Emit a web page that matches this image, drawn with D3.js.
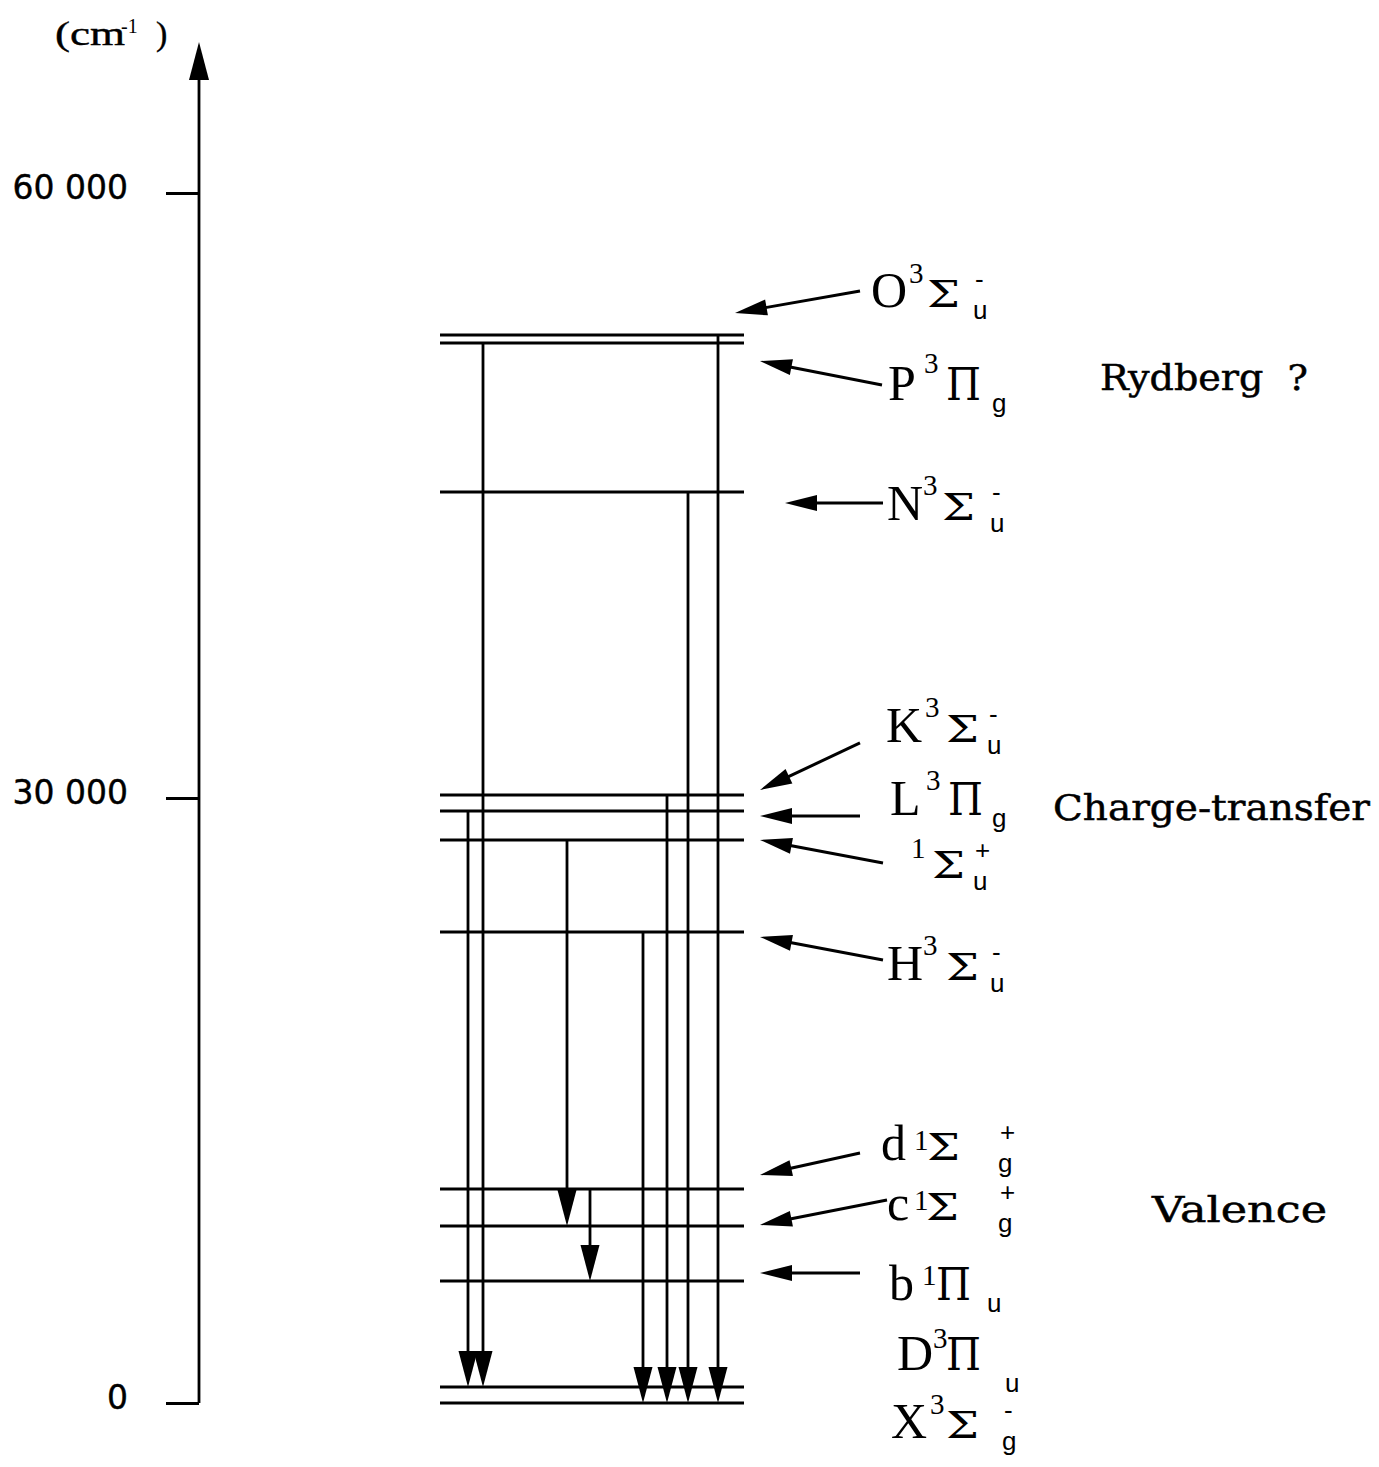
<!DOCTYPE html>
<html>
<head>
<meta charset="utf-8">
<script src="https://cdn.jsdelivr.net/npm/d3@7"></script>
<style>
  body { margin: 0; background: #fff; }
  svg text { fill: #000; }
</style>
</head>
<body>
<script>
// energy levels (cm-1)
const stateIds      = ["O", "P", "N", "K", "L", "S", "H", "d", "c", "b", "D", "X"];
const stateEnergies = [52960, 52560, 45170, 30150, 29350, 27920, 23360, 10610, 8780, 6050, 790, 0];
const stateLetters  = ["O", "P", "N", "K", "L", "", "H", "d", "c", "b", "D", "X"];
const stateMult     = ["3", "3", "3", "3", "3", "1", "3", "1", "1", "1", "3", "3"];
const stateSym      = ["Σ", "Π", "Σ", "Σ", "Π", "Σ", "Σ", "Σ", "Σ", "Π", "Π", "Σ"];
const stateParity   = ["u", "g", "u", "u", "g", "u", "u", "g", "g", "u", "u", "g"];
const stateSign     = ["-", "", "-", "-", "", "+", "-", "+", "+", "", "", "-"];

// radiative transitions, upper -> lower
const transFrom = ["L", "P", "S", "d", "H", "K", "N", "O"];
const transTo   = ["D", "D", "c", "b", "X", "X", "X", "X"];

const tickValues = [0, 30000, 60000];
const tickLabels = ["0", "30 000", "60 000"];
const groupNames = ["Rydberg  ?", "Charge-transfer", "Valence"];

// ---- layout ----
const W = 1379, H = 1467;
const axisX = 199;
const levelX0 = 440, levelX1 = 744;
const laneX = { L: 468, P: 483, S: 567, d: 590, H: 643, K: 667, N: 688, O: 718 };
// label placement: x of [letter, multiplicity, symbol, sub/sup], baseline offset from level,
// multiplicity raise, pointer arrow tail and tip (x, offset from level)
const labelLayout = {
  O: { x: [871, 909, 927, 973], dy: -28, sup: 24, tail: [860, -44], tip: [735, -22] },
  P: { x: [888, 924, 946, 992], dy: 57, sup: 27, tail: [882, 42], tip: [760, 18] },
  N: { x: [887, 923, 942, 990], dy: 28, sup: 25, tail: [883, 11], tip: [785, 11] },
  K: { x: [886, 925, 946, 987], dy: -53, sup: 25, tail: [860, -52], tip: [760, -5] },
  L: { x: [890, 926, 948, 992], dy: 4, sup: 25, tail: [860, 5], tip: [760, 5] },
  S: { x: [0, 911, 932, 973], dy: 38, sup: 20, tail: [883, 23], tip: [760, 0] },
  H: { x: [887, 923, 946, 990], dy: 48, sup: 25, tail: [883, 28], tip: [760, 5] },
  d: { x: [881, 914, 927, 998], dy: -29, sup: 10, tail: [860, -36], tip: [760, -14] },
  c: { x: [887, 914, 926, 998], dy: -6, sup: 10, tail: [887, -26], tip: [760, -1] },
  b: { x: [889, 922, 936, 987], dy: 19, sup: 15, tail: [860, -8], tip: [760, -8] },
  D: { x: [897, 933, 946, 1005], dy: -17, sup: 22, subDy: 22 },
  X: { x: [891, 930, 946, 1002], dy: 35, sup: 24 }
};
const symStyle = { "Σ": { size: 37, width: 33 }, "Π": { size: 45, width: 35 } };
const groupPos = [[1100, 390, 208], [1053, 820, 317], [1152, 1222, 175]];

const serif = "'Liberation Serif', 'Times New Roman', serif";
const greek = "'DejaVu Serif', serif";
const sans = "'Liberation Sans', Arial, sans-serif";

const svg = d3.select("body").append("svg")
  .attr("width", W)
  .attr("height", H);

const y = d3.scaleLinear().domain([0, 60000]).range([1403, 193]);

const energyOf = {};
stateIds.forEach((id, i) => energyOf[id] = stateEnergies[i]);

//axis with arrow
svg.append("line")
  .attr("x1", axisX).attr("x2", axisX)
  .attr("y1", y(0)).attr("y2", 78)
  .attr("stroke", "#000").attr("stroke-width", 2.8);
svg.append("path")
  .attr("d", `M${axisX},42 L${axisX - 10},80 L${axisX + 10},80 Z`)
  .attr("fill", "#000");

let axis = svg.append("g")
  .attr("transform", `translate(${axisX},0)`)
  .call(d3.axisLeft(y).tickValues(tickValues)
    .tickFormat((d, i) => tickLabels[i])
    .tickSize(33).tickPadding(38));
axis.select(".domain").remove();
axis.selectAll(".tick line").attr("stroke", "#000").attr("stroke-width", 2.8);
axis.selectAll(".tick text")
  .attr("dy", "0.16em")
  .attr("stroke", "#000").attr("stroke-width", 0.4)
  .style("font-family", "'DejaVu Sans', sans-serif")
  .style("font-size", "33px");

//unit label
svg.append("text")
  .attr("x", 55).attr("y", 45)
  .attr("textLength", 70).attr("lengthAdjust", "spacingAndGlyphs")
  .attr("stroke", "#000").attr("stroke-width", 0.4)
  .style("font-family", serif).style("font-size", "34px")
  .text("(cm");
svg.append("text")
  .attr("x", 121).attr("y", 33)
  .style("font-family", serif).style("font-size", "20px")
  .text("-1");
svg.append("text")
  .attr("x", 156).attr("y", 45)
  .attr("stroke", "#000").attr("stroke-width", 0.4)
  .style("font-family", serif).style("font-size", "34px")
  .text(")");

//level lines
svg.append("g").selectAll("line")
  .data(stateIds)
  .enter().append("line")
  .attr("x1", levelX0).attr("x2", levelX1)
  .attr("y1", d => y(energyOf[d])).attr("y2", d => y(energyOf[d]))
  .attr("stroke", "#000").attr("stroke-width", 3);

//transitions
const trans = transFrom.map((f, i) => ({ from: f, to: transTo[i] }));
const headLen = 36, headHalf = 9.5;
const tg = svg.append("g");
tg.selectAll("line")
  .data(trans)
  .enter().append("line")
  .attr("x1", d => laneX[d.from]).attr("x2", d => laneX[d.from])
  .attr("y1", d => y(energyOf[d.from]))
  .attr("y2", d => y(energyOf[d.to]) - headLen + 4)
  .attr("stroke", "#000").attr("stroke-width", 2.8);
tg.selectAll("path")
  .data(trans)
  .enter().append("path")
  .attr("d", d => {
    const x = laneX[d.from], yt = y(energyOf[d.to]);
    return `M${x},${yt} L${x - headHalf},${yt - headLen} L${x + headHalf},${yt - headLen} Z`;
  })
  .attr("fill", "#000");

//state labels
const lg = svg.append("g");
stateIds.forEach((id, i) => {
  const L = labelLayout[id];
  const yl = y(energyOf[id]);
  const base = yl + L.dy;
  if (stateLetters[i]) {
    lg.append("text").attr("x", L.x[0]).attr("y", base)
      .style("font-family", serif).style("font-size", "50px")
      .text(stateLetters[i]);
  }
  lg.append("text").attr("x", L.x[1]).attr("y", base - L.sup)
    .style("font-family", serif).style("font-size", "29px")
    .text(stateMult[i]);
  const ss = symStyle[stateSym[i]];
  lg.append("text").attr("x", L.x[2]).attr("y", base)
    .attr("textLength", ss.width).attr("lengthAdjust", "spacingAndGlyphs")
    .style("font-family", greek).style("font-size", ss.size + "px")
    .text(stateSym[i]);
  lg.append("text").attr("x", L.x[3]).attr("y", base + (L.subDy || 12))
    .style("font-family", sans).style("font-size", "26px")
    .text(stateParity[i]);
  if (stateSign[i]) {
    lg.append("text").attr("x", L.x[3] + 2).attr("y", base - 19)
      .style("font-family", sans).style("font-size", "26px")
      .text(stateSign[i]);
  }
  if (L.tail) {
    const x1 = L.tail[0], y1 = yl + L.tail[1];
    const x2 = L.tip[0], y2 = yl + L.tip[1];
    const a = Math.atan2(y2 - y1, x2 - x1);
    const hl = 32, hw = 8;
    const bx = x2 - hl * Math.cos(a), by = y2 - hl * Math.sin(a);
    lg.append("line")
      .attr("x1", x1).attr("y1", y1)
      .attr("x2", bx + 4 * Math.cos(a)).attr("y2", by + 4 * Math.sin(a))
      .attr("stroke", "#000").attr("stroke-width", 3);
    lg.append("path")
      .attr("d", `M${x2},${y2} L${bx - hw * Math.sin(a)},${by + hw * Math.cos(a)} L${bx + hw * Math.sin(a)},${by - hw * Math.cos(a)} Z`)
      .attr("fill", "#000");
  }
});

//group labels
svg.append("g").selectAll("text")
  .data(groupNames)
  .enter().append("text")
  .attr("x", (d, i) => groupPos[i][0])
  .attr("y", (d, i) => groupPos[i][1])
  .attr("textLength", (d, i) => groupPos[i][2])
  .attr("lengthAdjust", "spacingAndGlyphs")
  .attr("stroke", "#000").attr("stroke-width", 0.5)
  .style("white-space", "pre")
  .style("font-family", "'DejaVu Serif', serif")
  .style("font-size", "35px")
  .text(d => d);
</script>
</body>
</html>
